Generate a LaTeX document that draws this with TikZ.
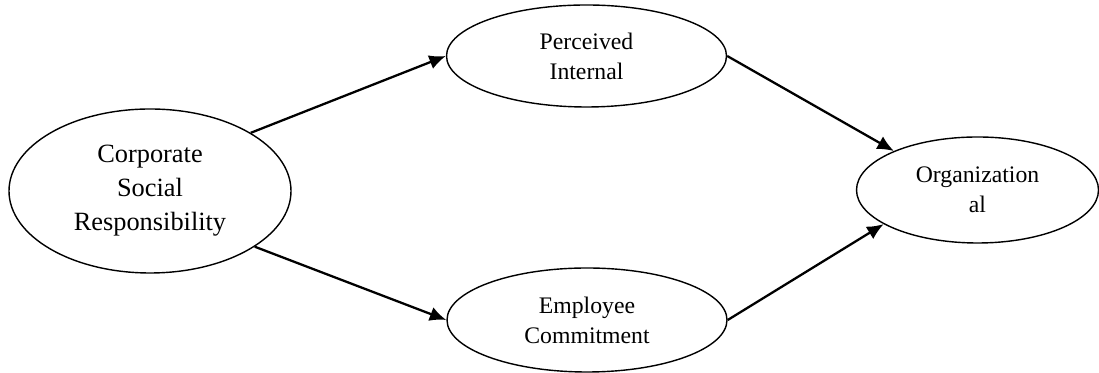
\documentclass[tikz,border=0pt]{standalone}
\usepackage{fontspec}
\setmainfont{Liberation Serif}
\usepackage{tikz}
\usetikzlibrary{shapes,arrows.meta}
\tikzstyle{oval1} = [ellipse, draw, line width=0.8pt, inner sep=0pt, align=center,
                     font=\fontsize{15}{19.4}\selectfont]
\tikzstyle{oval2} = [ellipse, draw, line width=0.8pt, inner sep=0pt, align=center,
                     font=\fontsize{13.5}{17}\selectfont]

\begin{document}
\begin{tikzpicture}[link/.style={line width=1.3pt, -{Latex[length=3.3mm,width=2.9mm]}}]
\useasboundingbox (0,0) rectangle (21.98,7.46);
%CSR
\node[oval1, minimum width=5.64cm, minimum height=3.28cm] at (3.0,3.64) (csr){Corporate\\Social\\Responsibility};
%Internal
\node[oval2, minimum width=5.6cm, minimum height=2.04cm] at (11.73,6.34) (pim){Perceived\\Internal};
\node[oval2, minimum width=5.6cm, minimum height=2.08cm] at (11.74,1.06) (ec){Employee\\Commitment};
%Outcome
\node[oval2, minimum width=4.84cm, minimum height=2.12cm] at (19.55,3.66) (org){Organization\\al};

% Arrows
\draw[link] (csr.30) -- (pim.west);
\draw[link] (csr.-28) -- (ec.west);
\draw[link] (pim.east) -- (org.155);
\draw[link] (ec.east) -- (org.200);
\end{tikzpicture}
\end{document}
